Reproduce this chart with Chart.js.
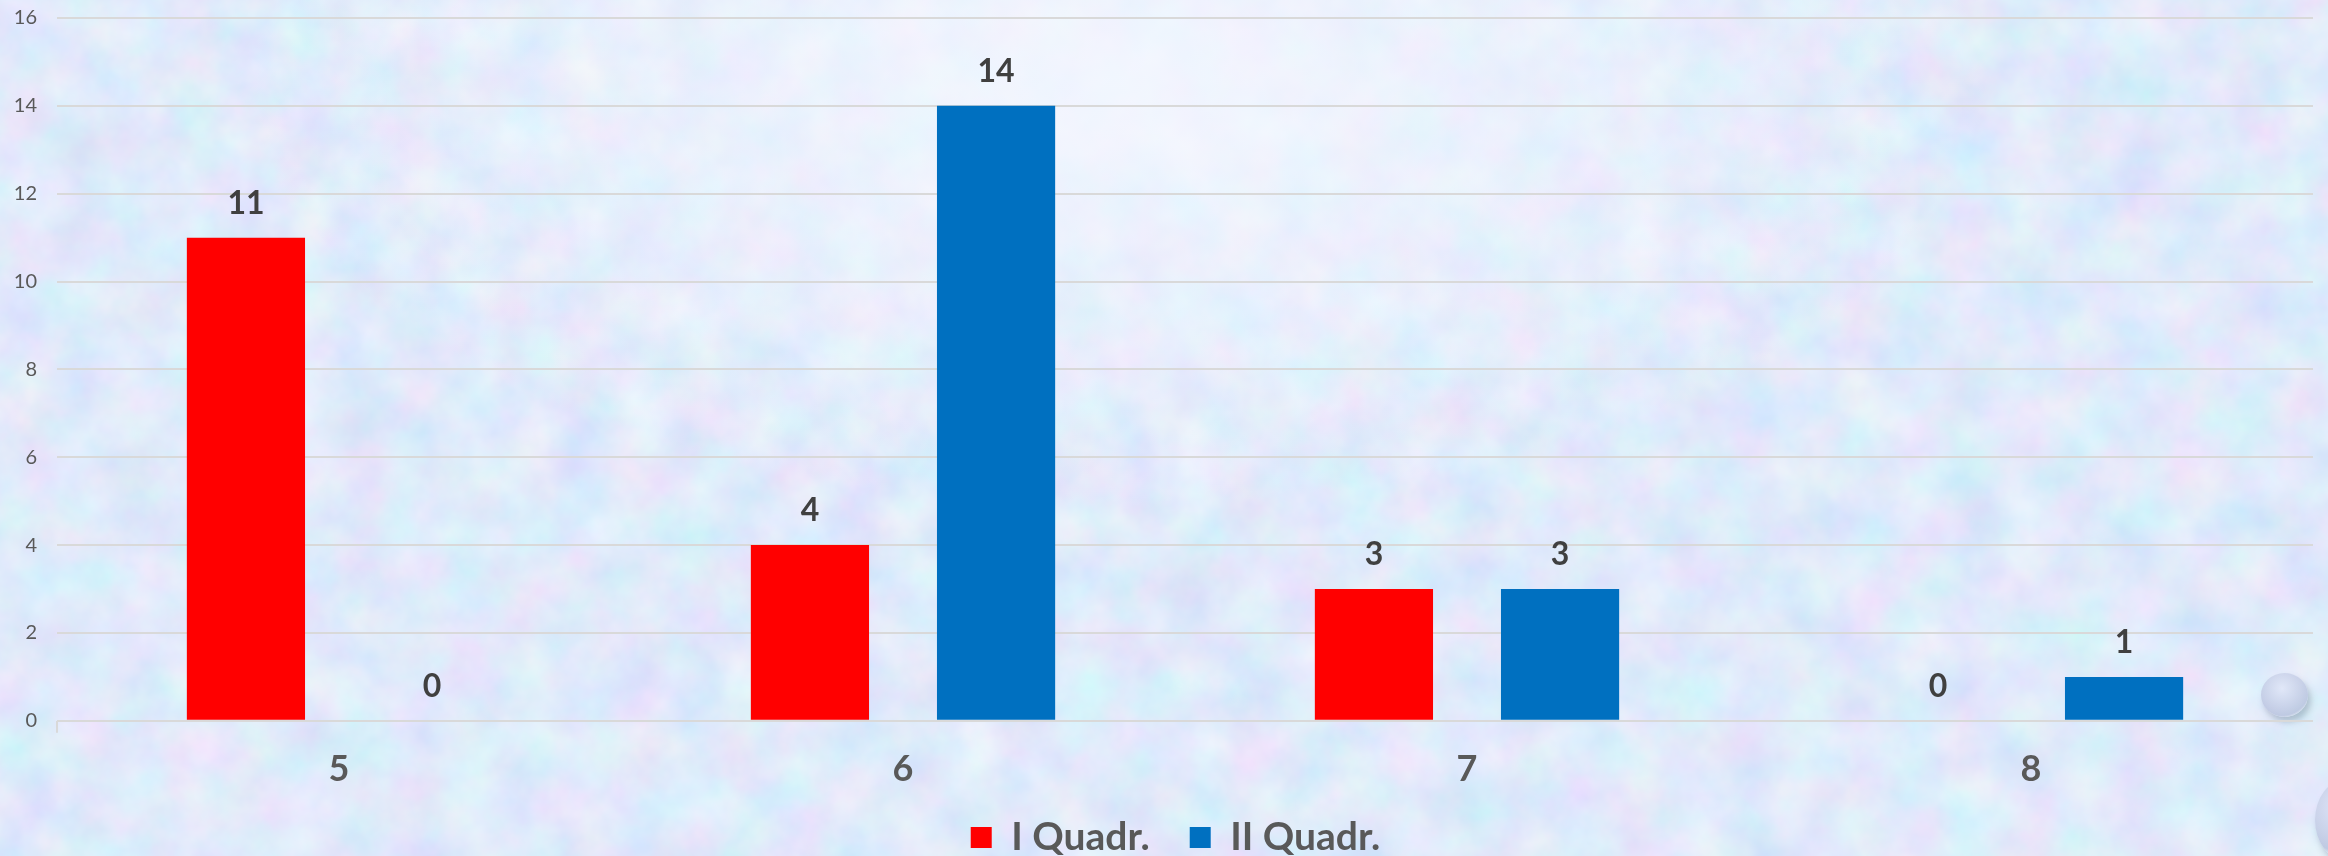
<!DOCTYPE html>
<html>
<head>
<meta charset="utf-8">
<script src="https://cdn.jsdelivr.net/npm/chart.js@4"></script>
<style>
  html, body { margin: 0; padding: 0; }
  body {
    width: 2328px; height: 856px; overflow: hidden; position: relative;
    background-color: #cbd9f4;
    background-image:
      radial-gradient(ellipse 38% 50% at 48% 10%, rgba(246,248,255,0.85), rgba(246,248,255,0) 100%),
      url("data:image/svg+xml;utf8,<svg xmlns='http://www.w3.org/2000/svg' width='2328' height='856'><filter id='n'><feTurbulence type='fractalNoise' baseFrequency='0.018' numOctaves='4' seed='7'/><feColorMatrix values='0.35 0 0 0 0.57  0 0.25 0 0 0.7  0 0 0.1 0 0.91  0 0 0 0 1'/></filter><rect width='100%' height='100%' filter='url(%23n)'/></svg>");
  }
  canvas { position: absolute; left: 0; top: 0; }
  .drop {
    position: absolute; border-radius: 50%;
    background: radial-gradient(circle at 45% 35%, rgba(225,230,248,0.9), rgba(185,195,222,0.85) 70%, rgba(255,255,255,0.95) 86%);
    box-shadow: 3px 5px 6px rgba(90,100,130,0.35);
  }
</style>
</head>
<body>
<div class="drop" style="left:2261px;top:673px;width:47px;height:44px;"></div>
<div class="drop" style="left:2315px;top:780px;width:60px;height:80px;"></div>
<canvas id="chart" width="2328" height="856"></canvas>
<script>
const categories = ["5", "6", "7", "8"];
const quadI = [11, 4, 3, 0];
const quadII = [0, 14, 3, 1];
const yTicks = [0, 2, 4, 6, 8, 10, 12, 14, 16];

const fontFamily = "Lato, 'Open Sans', sans-serif";

const valueLabels = {
  id: "valueLabels",
  afterDatasetsDraw(chart) {
    const ctx = chart.ctx;
    ctx.save();
    ctx.font = "bold 32px " + fontFamily;
    ctx.fillStyle = "#404040";
    ctx.textAlign = "center";
    ctx.textBaseline = "bottom";
    chart.data.datasets.forEach((ds, i) => {
      chart.getDatasetMeta(i).data.forEach((bar, j) => {
        ctx.fillText(String(ds.data[j]), bar.x, bar.y - 18);
      });
    });
    ctx.restore();
  },
};

// the legend overlaps the bottom of the x axis box; let the labels draw past it
const bottomFix = {
  id: "bottomFix",
  afterLayout(chart) {
    chart.scales.x.bottom = chart.height;
    chart.legend.left += 19;
    chart.legend.right += 19;
  },
};

new Chart(document.getElementById("chart"), {
  type: "bar",
  data: {
    labels: categories,
    datasets: [
      {
        label: "I Quadr.",
        data: quadI,
        backgroundColor: "#ff0000",
      },
      {
        label: "II Quadr.",
        data: quadII,
        backgroundColor: "#0070c0",
      },
    ],
  },
  options: {
    responsive: false,
    animation: false,
    layout: { padding: { top: 18, right: 15, left: 0, bottom: -11 } },
    datasets: {
      bar: { categoryPercentage: 0.66, barPercentage: 0.635 },
    },
    plugins: {
      legend: {
        position: "bottom",
        labels: {
          boxWidth: 21,
          boxHeight: 21,
          padding: 40,
          color: "#595959",
          font: { family: fontFamily, size: 39, weight: "bold" },
        },
      },
      tooltip: { enabled: false },
    },
    scales: {
      x: {
        border: { display: false },
        grid: {
          offset: true,
          drawOnChartArea: false,
          tickLength: 12,
          lineWidth: 2,
          color: (c) => (c.index === 0 || c.index === categories.length ? "#d9d9d9" : "rgba(0,0,0,0)"),
        },
        ticks: {
          color: "#595959",
          padding: 15,
          font: { family: fontFamily, size: 36, weight: "bold" },
        },
        afterFit: (scale) => {
          scale.height -= 28;
        },
      },
      y: {
        min: 0,
        max: 16,
        border: { display: false },
        afterBuildTicks: (scale) => {
          scale.ticks = yTicks.map((v) => ({ value: v }));
        },
        afterFit: (scale) => {
          scale.width = 57;
          scale.paddingTop = 0;
          scale.paddingBottom = 0;
        },
        grid: { color: "#d9d9d9", lineWidth: 2, drawTicks: false },
        ticks: {
          color: "#595959",
          padding: 20,
          font: { family: fontFamily, size: 20 },
        },
      },
    },
  },
  plugins: [valueLabels, bottomFix],
});
</script>
</body>
</html>
